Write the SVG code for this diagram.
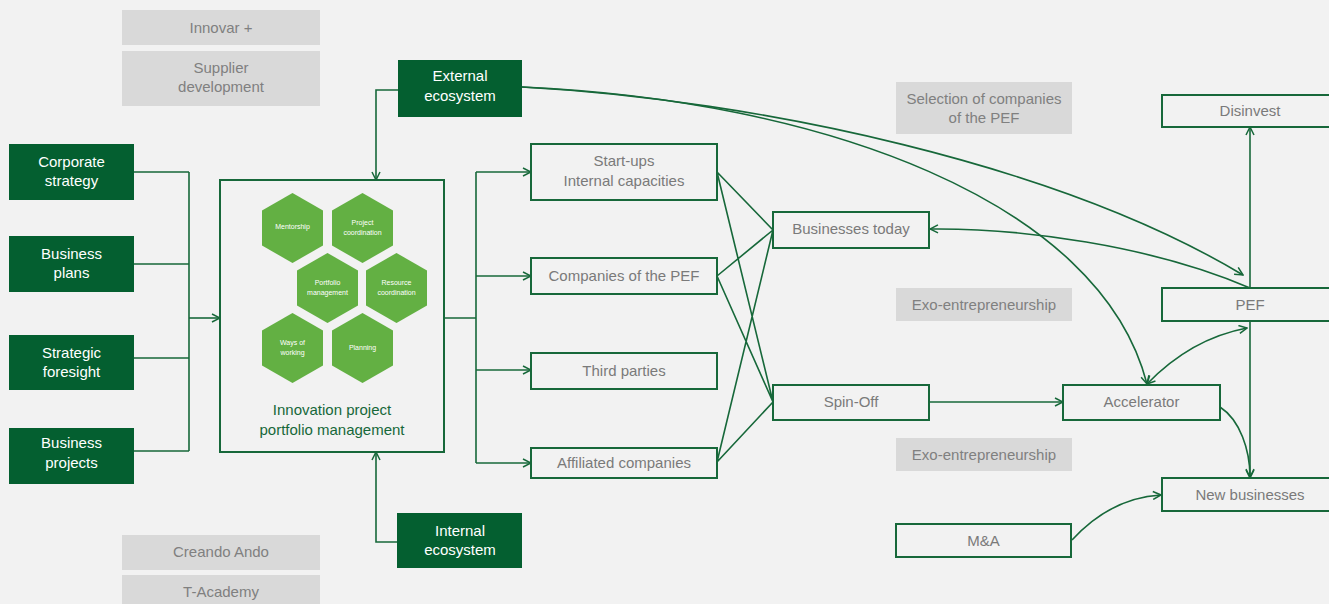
<svg xmlns="http://www.w3.org/2000/svg" width="1329" height="604" viewBox="0 0 1329 604">
<defs>
<style>
.bg{fill:#f2f2f2}
.dk{fill:#045f30}
.gr{fill:#d9d9d9}
.ob{fill:#f2f2f2;stroke:#17683a;stroke-width:2}
.hx{fill:#63b043}
.ln{fill:none;stroke:#17683a;stroke-width:1.6}
text{font-family:"Liberation Sans",Arial,sans-serif;font-size:15px;text-anchor:middle}
.wt{fill:#ffffff}
.gt{fill:#808080}
.ot{fill:#7a7a7a}
.ht{fill:#ffffff;font-size:7px}
.mt{fill:#17683a;font-size:15px}
</style>
<marker id="a" viewBox="0 0 10 10" refX="9" refY="5" markerWidth="10" markerHeight="10" markerUnits="userSpaceOnUse" orient="auto-start-reverse">
<path d="M1,1 L9,5 L1,9" fill="none" stroke="#17683a" stroke-width="1.5"/>
</marker>
</defs>
<rect class="bg" x="0" y="0" width="1329" height="604"/>

<g id="connectors">
<path class="ln" d="M134,172 H189 M134,264 H189 M134,358 H189 M134,451 H189 M189,172 V451"/>
<path class="ln" d="M189,318 H220" marker-end="url(#a)"/>
<path class="ln" d="M398,90 H376 V180" marker-end="url(#a)"/>
<path class="ln" d="M397,542 H376 V452" marker-end="url(#a)"/>
<path class="ln" d="M444,318 H476 M476,172 V463"/>
<path class="ln" d="M476,172 H531" marker-end="url(#a)"/>
<path class="ln" d="M476,276 H531" marker-end="url(#a)"/>
<path class="ln" d="M476,370 H531" marker-end="url(#a)"/>
<path class="ln" d="M476,463 H531" marker-end="url(#a)"/>
<path class="ln" d="M717,172 L773,230 M717,172 L773,402 M717,276 L773,230 M717,276 L773,402 M717,462 L773,230 M717,462 L773,402"/>
<path class="ln" d="M929,402 H1063" marker-end="url(#a)"/>
<path class="ln" d="M522,87 C760,100 1060,165 1243,275" marker-end="url(#a)"/>
<path class="ln" d="M522,87 C820,100 1100,200 1147,384" marker-end="url(#a)"/>
<path class="ln" d="M1250,288 C1150,245 1020,228 930,229" marker-end="url(#a)"/>
<path class="ln" d="M1147,384 C1175,355 1210,335 1247,328" marker-start="url(#a)" marker-end="url(#a)"/>
<path class="ln" d="M1250,288 V127" marker-end="url(#a)"/>
<path class="ln" d="M1250,321 V478" marker-end="url(#a)"/>
<path class="ln" d="M1220,407 C1240,420 1250,450 1250,477" marker-end="url(#a)"/>
<path class="ln" d="M1072,540 C1095,515 1125,497 1161,495" marker-end="url(#a)"/>
</g>

<g id="innovar"><rect class="gr" x="122" y="10" width="198" height="35"/><text class="gt" x="221" y="33">Innovar +</text></g>
<g id="supplier"><rect class="gr" x="122" y="51" width="198" height="55"/><text class="gt" x="221" y="73">Supplier</text><text class="gt" x="221" y="92">development</text></g>
<g id="creando"><rect class="gr" x="122" y="535" width="198" height="35"/><text class="gt" x="221" y="557">Creando Ando</text></g>
<g id="tacademy"><rect class="gr" x="122" y="575" width="198" height="35"/><text class="gt" x="221" y="597">T-Academy</text></g>
<g id="selection"><rect class="gr" x="896" y="82" width="176" height="52"/><text class="gt" x="984" y="104">Selection of companies</text><text class="gt" x="984" y="123">of the PEF</text></g>
<g id="exo1"><rect class="gr" x="896" y="288" width="176" height="33"/><text class="gt" x="984" y="310">Exo-entrepreneurship</text></g>
<g id="exo2"><rect class="gr" x="896" y="438" width="176" height="33"/><text class="gt" x="984" y="460">Exo-entrepreneurship</text></g>

<g id="corporate"><rect class="dk" x="9" y="144" width="125" height="56"/><text class="wt" x="71.5" y="167">Corporate</text><text class="wt" x="71.5" y="186">strategy</text></g>
<g id="plans"><rect class="dk" x="9" y="236" width="125" height="56"/><text class="wt" x="71.5" y="259">Business</text><text class="wt" x="71.5" y="278">plans</text></g>
<g id="foresight"><rect class="dk" x="9" y="335" width="125" height="55"/><text class="wt" x="71.5" y="358">Strategic</text><text class="wt" x="71.5" y="377">foresight</text></g>
<g id="projects"><rect class="dk" x="9" y="428" width="125" height="56"/><text class="wt" x="71.5" y="448">Business</text><text class="wt" x="71.5" y="468">projects</text></g>
<g id="external"><rect class="dk" x="398" y="60" width="124" height="57"/><text class="wt" x="460" y="81">External</text><text class="wt" x="460" y="101">ecosystem</text></g>
<g id="internal"><rect class="dk" x="397" y="513" width="125" height="55"/><text class="wt" x="460" y="536">Internal</text><text class="wt" x="460" y="555">ecosystem</text></g>

<g id="ippm">
<rect class="ob" x="220" y="180" width="224" height="272"/>
<polygon class="hx" points="292.5,193 323,210.5 323,245.5 292.5,263 262,245.5 262,210.5"/>
<polygon class="hx" points="362.5,193 393,210.5 393,245.5 362.5,263 332,245.5 332,210.5"/>
<polygon class="hx" points="327.5,253 358,270.5 358,305.5 327.5,323 297,305.5 297,270.5"/>
<polygon class="hx" points="396.5,253 427,270.5 427,305.5 396.5,323 366,305.5 366,270.5"/>
<polygon class="hx" points="292.5,313 323,330.5 323,365.5 292.5,383 262,365.5 262,330.5"/>
<polygon class="hx" points="362.5,313 393,330.5 393,365.5 362.5,383 332,365.5 332,330.5"/>
<text class="ht" x="292.5" y="228.5">Mentorship</text>
<text class="ht" x="362.5" y="224.5">Project</text><text class="ht" x="362.5" y="234.5">coordination</text>
<text class="ht" x="327.5" y="284.5">Portfolio</text><text class="ht" x="327.5" y="294.5">management</text>
<text class="ht" x="396.5" y="284.5">Resource</text><text class="ht" x="396.5" y="294.5">coordination</text>
<text class="ht" x="292.5" y="344.5">Ways of</text><text class="ht" x="292.5" y="354.5">working</text>
<text class="ht" x="362.5" y="349.5">Planning</text>
<text class="mt" x="332" y="415">Innovation project</text>
<text class="mt" x="332" y="435">portfolio management</text>
</g>

<g id="startups"><rect class="ob" x="531" y="144" width="186" height="56"/><text class="ot" x="624" y="166">Start-ups</text><text class="ot" x="624" y="186">Internal capacities</text></g>
<g id="companies"><rect class="ob" x="531" y="258" width="186" height="36"/><text class="ot" x="624" y="281">Companies of the PEF</text></g>
<g id="third"><rect class="ob" x="531" y="353" width="186" height="36"/><text class="ot" x="624" y="376">Third parties</text></g>
<g id="affiliated"><rect class="ob" x="531" y="448" width="186" height="30"/><text class="ot" x="624" y="468">Affiliated companies</text></g>
<g id="today"><rect class="ob" x="773" y="212" width="156" height="36"/><text class="ot" x="851" y="234">Businesses today</text></g>
<g id="spinoff"><rect class="ob" x="773" y="385" width="156" height="35"/><text class="ot" x="851" y="407">Spin-Off</text></g>
<g id="accelerator"><rect class="ob" x="1063" y="385" width="157" height="35"/><text class="ot" x="1141.5" y="407">Accelerator</text></g>
<g id="ma"><rect class="ob" x="896" y="524" width="175" height="33"/><text class="ot" x="983.5" y="546">M&amp;A</text></g>
<g id="disinvest"><rect class="ob" x="1162" y="95" width="180" height="32"/><text class="ot" x="1250" y="116">Disinvest</text></g>
<g id="pef"><rect class="ob" x="1162" y="288" width="180" height="33"/><text class="ot" x="1250" y="310">PEF</text></g>
<g id="newbiz"><rect class="ob" x="1162" y="478" width="180" height="33"/><text class="ot" x="1250" y="500">New businesses</text></g>
</svg>
